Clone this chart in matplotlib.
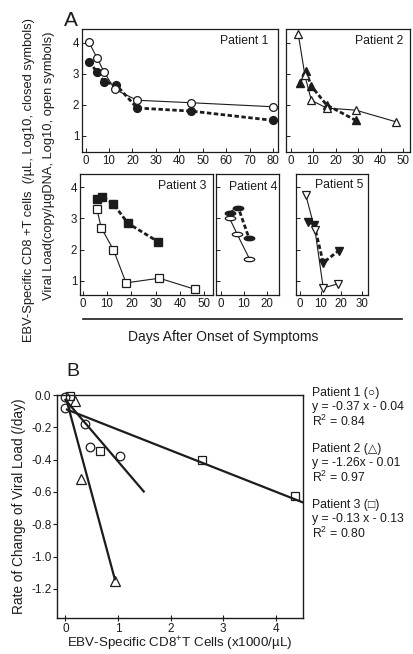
import numpy as np
import matplotlib
matplotlib.use("Agg")
import matplotlib.pyplot as plt
from matplotlib.path import Path
from matplotlib.transforms import Affine2D
from matplotlib.lines import Line2D

# Arial-like look, fallback for the small shape glyphs
plt.rcParams["font.family"] = ["Liberation Sans", "DejaVu Sans"]
plt.rcParams["font.size"] = 8
plt.rcParams["axes.unicode_minus"] = False
plt.rcParams["mathtext.fontset"] = "custom"
plt.rcParams["mathtext.rm"] = "Liberation Sans"
plt.rcParams["mathtext.it"] = "Liberation Sans:italic"

INK = "#1c1c1c"

# ---- Panel A data (days after onset, log10 values) ----
p1_open_days = [1.5, 5, 8, 12.5, 22, 45, 80]
p1_open_vals = [4.02, 3.5, 3.05, 2.5, 2.15, 2.07, 1.94]
p1_closed_days = [1.5, 5, 8, 13, 22, 45, 80]
p1_closed_vals = [3.4, 3.05, 2.74, 2.65, 1.9, 1.8, 1.5]

p2_open_days = [3.4, 6.4, 9.2, 16, 29, 47]
p2_open_vals = [4.3, 2.95, 2.15, 1.9, 1.83, 1.45]
p2_closed_days = [4, 6.7, 9.3, 16, 29]
p2_closed_vals = [2.7, 3.1, 2.6, 2.0, 1.5]

p3_open_days = [5.8, 7.6, 12.6, 17.8, 31.5, 46.2]
p3_open_vals = [3.32, 2.7, 2.0, 0.93, 1.08, 0.72]
p3_closed_days = [5.8, 8.1, 12.6, 18.5, 31]
p3_closed_vals = [3.63, 3.7, 3.47, 2.85, 2.25]

p4_open_days = [3.8, 7.1, 12.4]
p4_open_vals = [3.0, 2.49, 1.71]
p4_closed_days = [3.8, 7.6, 12.2]
p4_closed_vals = [3.18, 3.34, 2.38]

p5_open_days = [2.8, 7.3, 11.3, 18.6]
p5_open_vals = [3.77, 2.63, 0.77, 0.9]
p5_closed_days = [3.7, 6.9, 11.3, 18.9]
p5_closed_vals = [2.9, 2.8, 1.58, 1.97]

# ---- Panel B data (CD8 x1000/uL vs rate of change /day) ----
b_circ_x = [0.0, 0.0, 0.37, 0.47, 1.04]
b_circ_y = [-0.01, -0.078, -0.18, -0.32, -0.375]
b_tri_x = [0.19, 0.30, 0.95]
b_tri_y = [-0.04, -0.52, -1.15]
b_sq_x = [0.08, 0.66, 2.6, 4.36]
b_sq_y = [-0.005, -0.346, -0.405, -0.628]

# fitted lines as drawn in the figure (endpoints)
fit1_x = [0.0, 1.49]
fit1_y = [-0.03, -0.597]
fit2_x = [0.02, 0.94]
fit2_y = [-0.03, -1.14]
fit3_x = [0.03, 4.52]
fit3_y = [-0.09, -0.665]

fit_labels = [
    ("Patient 1 (\u25cb)", "y = -0.37 x - 0.04", "R$^{2}$ = 0.84"),
    ("Patient 2 (\u25b3)", "y = -1.26x - 0.01", "R$^{2}$ = 0.97"),
    ("Patient 3 (\u25a1)", "y = -0.13 x - 0.13", "R$^{2}$ = 0.80"),
]

W, H = 413, 654
fig = plt.figure(figsize=(W / 100, H / 100), dpi=100)


def rect(x0, y0, x1, y1):
    # pixel box -> figure fraction
    return [x0 / W, 1 - y1 / H, (x1 - x0) / W, (y1 - y0) / H]


# horizontal oval marker for patient 4
oval = Path.unit_circle().transformed(Affine2D().scale(1.0, 0.42))

dash = (0, (1.6, 0.9))


def draw_patient(ax, od, ov, cd, cv, marker, ms, title, xlim, xticks, ylim, ylabels):
    ax.plot(cd, cv, color=INK, lw=2.0, ls=dash, marker=marker, ms=ms,
            mfc=INK, mec=INK, zorder=3, clip_on=False)
    ax.plot(od, ov, color=INK, lw=0.8, marker=marker, ms=ms,
            mfc="white", mec=INK, mew=0.9, zorder=4, clip_on=False)
    ax.set_xlim(*xlim)
    ax.set_ylim(*ylim)
    ax.set_xticks(xticks)
    ax.set_yticks([1, 2, 3, 4])
    if not ylabels:
        ax.set_yticklabels([])
    ax.tick_params(direction="in", length=3, width=0.7, labelsize=8.3, pad=2,
                   colors=INK)
    for s in ax.spines.values():
        s.set_linewidth(0.9)
        s.set_color(INK)
    ax.text(0.95, 0.9, title, transform=ax.transAxes, ha="right", va="center",
            fontsize=8.8, color=INK)


ax1 = fig.add_axes(rect(82, 29, 278, 152))
draw_patient(ax1, p1_open_days, p1_open_vals, p1_closed_days, p1_closed_vals,
             "o", 5.6, "Patient 1", (-1.5, 82), range(0, 81, 10), (0.48, 4.45), True)

ax2 = fig.add_axes(rect(286, 29, 410, 152))
draw_patient(ax2, p2_open_days, p2_open_vals, p2_closed_days, p2_closed_vals,
             "^", 6, "Patient 2", (-2, 53), range(0, 51, 10), (0.48, 4.45), False)

ax3 = fig.add_axes(rect(80, 174, 213, 295))
draw_patient(ax3, p3_open_days, p3_open_vals, p3_closed_days, p3_closed_vals,
             "s", 5.5, "Patient 3", (-1.1, 53.5), range(0, 51, 10), (0.54, 4.43), True)

ax4 = fig.add_axes(rect(216, 174, 279, 295))
draw_patient(ax4, p4_open_days, p4_open_vals, p4_closed_days, p4_closed_vals,
             oval, 7.5, "Patient 4", (-2.2, 25.4), [0, 10, 20], (0.54, 4.43), False)
ax4.texts[0].set_position((0.97, 0.89))

ax5 = fig.add_axes(rect(296, 174, 368, 295))
draw_patient(ax5, p5_open_days, p5_open_vals, p5_closed_days, p5_closed_vals,
             "v", 6, "Patient 5", (-1.9, 33), [0, 10, 20, 30], (0.54, 4.43), False)
ax5.texts[0].set_position((0.93, 0.91))

# shared labels for panel A
fig.text(71 / W, 1 - 21 / H, "A", fontsize=15, ha="center", va="center", color=INK)
fig.text(29 / W, 1 - 180 / H,
         "EBV-Specific CD8 +T cells  (/\u00b5L, Log10, closed symbols)",
         rotation=90, ha="center", va="center", fontsize=9.3, color=INK)
fig.text(49 / W, 1 - 166 / H,
         "Viral Load(copy/\u00b5gDNA, Log10, open symbols)",
         rotation=90, ha="center", va="center", fontsize=9.3, color=INK)
fig.add_artist(Line2D([83 / W, 402 / W], [1 - 319 / H, 1 - 319 / H],
                      transform=fig.transFigure, color=INK, lw=1.2))
fig.text(223 / W, 1 - 337 / H, "Days After Onset of Symptoms",
         ha="center", va="center", fontsize=10, color=INK)

# ---- Panel B ----
axb = fig.add_axes(rect(57, 395, 303, 618))
for fx, fy in [(fit1_x, fit1_y), (fit2_x, fit2_y), (fit3_x, fit3_y)]:
    axb.plot(fx, fy, color=INK, lw=1.6, zorder=2)
axb.plot(b_circ_x, b_circ_y, ls="none", marker="o", ms=6.2, mfc="none",
         mec=INK, mew=0.9, clip_on=False, zorder=3)
axb.plot(b_tri_x, b_tri_y, ls="none", marker="^", ms=6.5, mfc="none",
         mec=INK, mew=0.9, clip_on=False, zorder=3)
axb.plot(b_sq_x, b_sq_y, ls="none", marker="s", ms=6.2, mfc="none",
         mec=INK, mew=0.9, clip_on=False, zorder=3)
axb.set_xlim(-0.16, 4.52)
axb.set_ylim(-1.38, 0.0)
axb.set_xticks([0, 1, 2, 3, 4])
yt = [0.0, -0.2, -0.4, -0.6, -0.8, -1.0, -1.2]
axb.set_yticks(yt)
axb.set_yticklabels([f"{v:.1f}" for v in yt])
axb.tick_params(axis="x", direction="inout", length=5, width=0.8, labelsize=8.5,
                pad=1, colors=INK)
axb.tick_params(axis="y", direction="out", length=3, width=0.8, labelsize=8.5,
                pad=1, colors=INK)
for s in axb.spines.values():
    s.set_linewidth(1.0)
    s.set_color(INK)
axb.set_ylabel("Rate of Change of Viral Load (/day)", fontsize=9.8,
               color=INK, labelpad=4)
fig.text(180 / W, 1 - 644 / H, "EBV-Specific CD8$^{+}$T Cells (x1000/\u00b5L)",
         ha="center", va="center", fontsize=9.6, color=INK)
fig.text(73 / W, 1 - 372 / H, "B", fontsize=14, ha="center", va="center", color=INK)

# fit equations to the right of panel B
for i, lines in enumerate(fit_labels):
    y0 = [393, 449, 505][i]
    for j, s in enumerate(lines):
        fig.text(312 / W, 1 - (y0 + 14 * j) / H, s, ha="left", va="center",
                 fontsize=8.8, color=INK)

plt.savefig("out.png", dpi=100)
plt.close()
